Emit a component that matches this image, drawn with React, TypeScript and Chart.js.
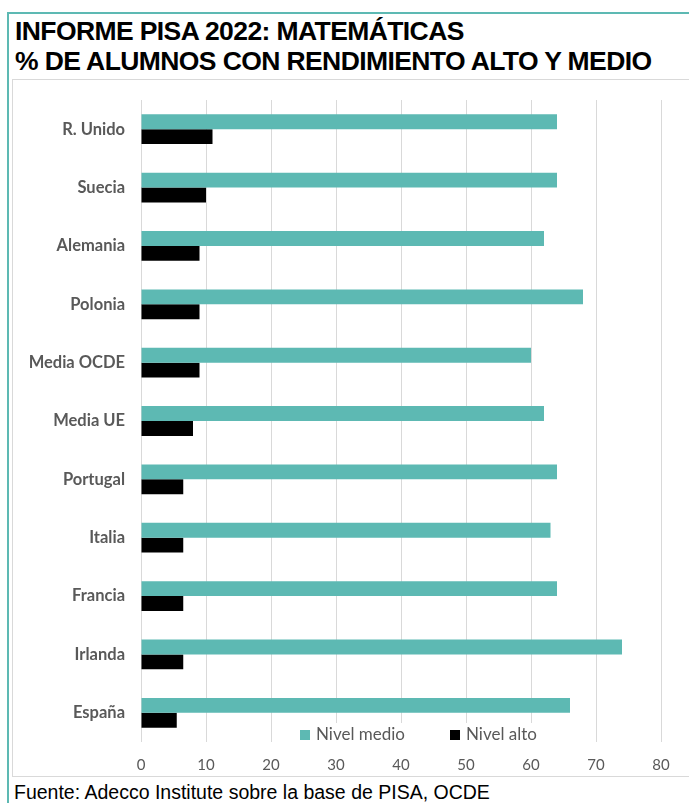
import React, { useEffect, useRef } from "react";
import { Chart, registerables } from "chart.js";

Chart.register(...registerables);

const categories = [
  "R. Unido",
  "Suecia",
  "Alemania",
  "Polonia",
  "Media OCDE",
  "Media UE",
  "Portugal",
  "Italia",
  "Francia",
  "Irlanda",
  "España",
];
const nivelMedio = [64, 64, 62, 68, 60, 62, 64, 63, 64, 74, 66];
const nivelAlto = [11, 10, 9, 9, 9, 8, 6.5, 6.5, 6.5, 6.5, 5.5];
const seriesNames = ["Nivel medio", "Nivel alto"];
const seriesColors = ["#5DB9B3", "#000000"];
const xMax = 80;
const xStep = 10;

const titleLines = ["INFORME PISA 2022: MATEMÁTICAS", "% DE ALUMNOS CON RENDIMIENTO ALTO Y MEDIO"];
const footerText = "Fuente: Adecco Institute sobre la base de PISA, OCDE";

const legendPlugin = {
  id: "customLegend",
  afterDatasetsDraw(chart: any) {
    const { ctx, chartArea } = chart;
    const y = chartArea.bottom - 7;
    ctx.save();
    ctx.fillStyle = "#ffffff";
    ctx.fillRect(chartArea.left + 150, chartArea.bottom - 19, 260, 19);
    ctx.font = "17px Lato";
    ctx.textBaseline = "middle";
    let x = chartArea.left + 159;
    const gap = [0, 45];
    chart.data.datasets.forEach((ds: any, i: number) => {
      x += gap[i];
      ctx.fillStyle = ds.backgroundColor;
      ctx.fillRect(x, y - 5, 10, 10);
      ctx.fillStyle = "#595959";
      ctx.textAlign = "left";
      ctx.fillText(ds.label, x + 16, y);
      x += 16 + ctx.measureText(ds.label).width;
    });
    ctx.restore();
  },
};

export default function App() {
  const canvasRef = useRef<HTMLCanvasElement | null>(null);

  useEffect(() => {
    if (!canvasRef.current) return;
    const chart = new Chart(canvasRef.current, {
      type: "bar",
      data: {
        labels: categories,
        datasets: [
          {
            label: seriesNames[0],
            data: nivelMedio,
            backgroundColor: seriesColors[0],
            categoryPercentage: 0.51,
            barPercentage: 1,
          },
          {
            label: seriesNames[1],
            data: nivelAlto,
            backgroundColor: seriesColors[1],
            categoryPercentage: 0.51,
            barPercentage: 1,
          },
        ],
      },
      options: {
        indexAxis: "y",
        animation: false,
        responsive: false,
        maintainAspectRatio: false,
        layout: { padding: { top: 20, right: 28, left: 0, bottom: 0 } },
        plugins: {
          legend: { display: false },
          tooltip: { enabled: false },
        },
        scales: {
          x: {
            min: 0,
            max: xMax,
            border: { display: false },
            grid: { color: "#D9D9D9", drawTicks: false, lineWidth: 1 },
            ticks: {
              stepSize: xStep,
              color: "#595959",
              font: { family: "Lato", size: 15 },
              padding: 14,
            },
            afterFit(scale: any) {
              scale.height = 34;
            },
          },
          y: {
            border: { display: false },
            grid: { display: false, drawTicks: false },
            ticks: {
              color: "#595959",
              font: { family: "Lato", size: 16.5, weight: "bold" },
              padding: 16,
            },
            afterFit(scale: any) {
              scale.width = 128;
              scale.paddingTop = 0;
              scale.paddingBottom = 0;
            },
          },
        },
      },
      plugins: [legendPlugin],
    });
    return () => chart.destroy();
  }, []);

  return (
    <div
      style={{
        position: "absolute",
        left: 0,
        top: 0,
        width: 689,
        height: 803,
        background: "#ffffff",
        overflow: "hidden",
      }}
    >
      <div
        style={{
          position: "absolute",
          left: 7,
          top: 12,
          width: 700,
          height: 820,
          borderLeft: "2px solid #5DB9B3",
          borderTop: "2px solid #5DB9B3",
          boxSizing: "border-box",
        }}
      />
      <div
        style={{
          position: "absolute",
          left: 15,
          top: 16,
          fontFamily: "'Liberation Sans', Arial, sans-serif",
          fontWeight: "bold",
          fontSize: 26.5,
          lineHeight: "30px",
          letterSpacing: -0.6,
          color: "#000000",
          whiteSpace: "nowrap",
        }}
      >
        {titleLines.map((t, i) => (
          <div key={i}>{t}</div>
        ))}
      </div>
      <div
        style={{
          position: "absolute",
          left: 12,
          top: 79,
          width: 700,
          height: 698,
          border: "1px solid #D9D9D9",
          boxSizing: "border-box",
        }}
      />
      <canvas
        ref={canvasRef}
        width={676}
        height={696}
        style={{ position: "absolute", left: 13, top: 80, width: 676, height: 696 }}
      />
      <div
        style={{
          position: "absolute",
          left: 14,
          top: 781,
          fontFamily: "'Liberation Sans', Arial, sans-serif",
          fontSize: 19.5,
          lineHeight: "23px",
          color: "#000000",
          whiteSpace: "nowrap",
        }}
      >
        {footerText}
      </div>
    </div>
  );
}
